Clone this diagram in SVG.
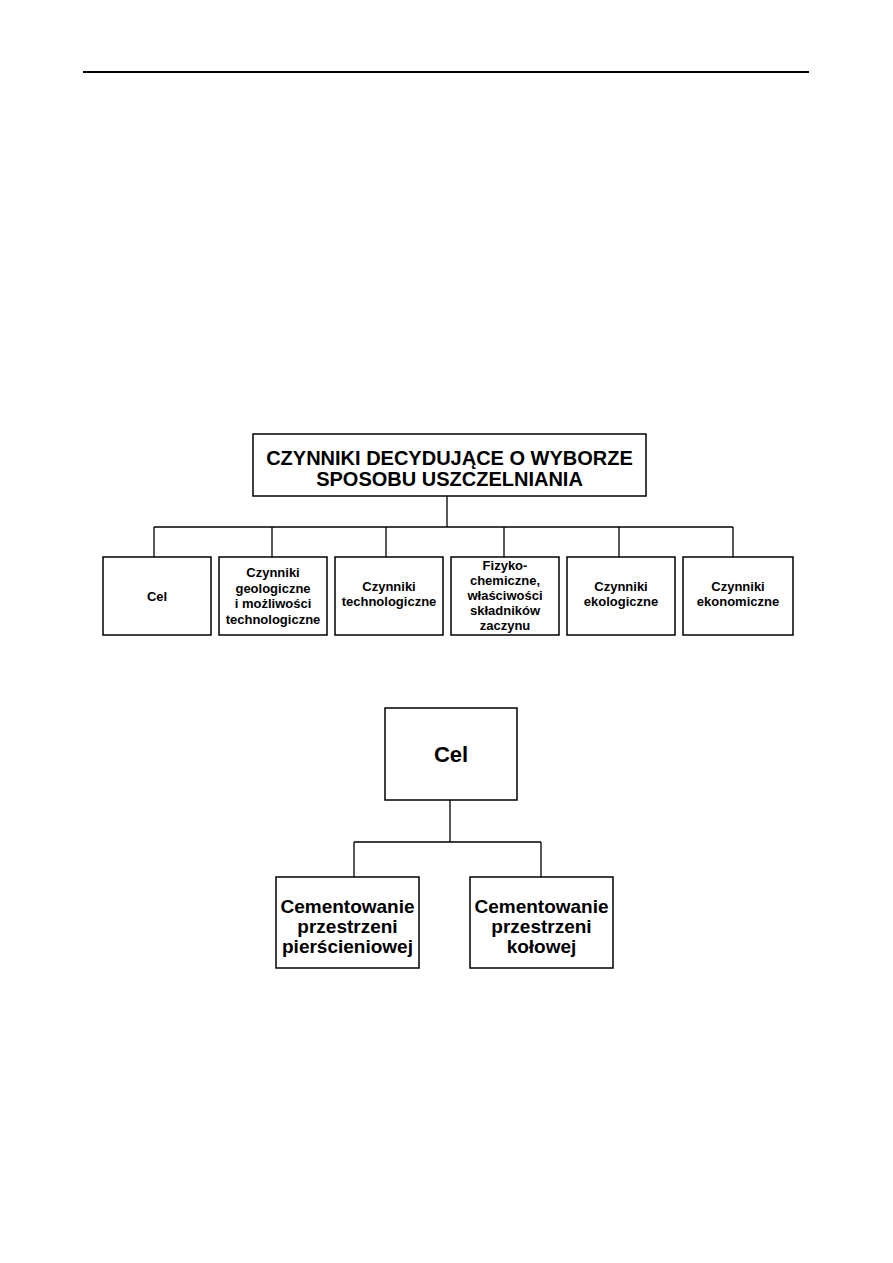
<svg xmlns="http://www.w3.org/2000/svg" width="893" height="1263" viewBox="0 0 893 1263">
<style>
.box{fill:#fff;stroke:#000;stroke-width:1.5}
.ln{fill:none;stroke:#000;stroke-width:1.3}
text{font-family:"Liberation Sans",Arial,sans-serif;font-weight:bold;fill:#000;text-anchor:middle}
.s{font-size:13px}
.m{font-size:19px}
.t{font-size:20px}
.c{font-size:22px}
</style>
<rect width="893" height="1263" fill="#fff"/>
<line x1="83" y1="72" x2="809" y2="72" stroke="#000" stroke-width="2"/>
<g id="connectors">
<path class="ln" d="M447 496V527M154 527H733M154 527V557M272 527V557M386 527V557M504 527V557M619 527V557M733 527V557"/>
<path class="ln" d="M450 800V842M354 842H541M354 842V877M541 842V877"/>
</g>
<g id="root">
<rect class="box" x="253" y="434" width="393" height="62"/>
<text class="t" x="449.5" y="465">CZYNNIKI DECYDUJĄCE O WYBORZE</text>
<text class="t" x="449.5" y="486">SPOSOBU USZCZELNIANIA</text>
</g>
<g id="n1">
<rect class="box" x="103" y="557" width="108" height="78"/>
<text class="s" x="157" y="600.5">Cel</text>
</g>
<g id="n2">
<rect class="box" x="219" y="557" width="108" height="78"/>
<text class="s" x="273" y="577">Czynniki</text>
<text class="s" x="273" y="592.5">geologiczne</text>
<text class="s" x="273" y="608">i możliwości</text>
<text class="s" x="273" y="623.5">technologiczne</text>
</g>
<g id="n3">
<rect class="box" x="335" y="557" width="108" height="78"/>
<text class="s" x="389" y="590.5">Czynniki</text>
<text class="s" x="389" y="606">technologiczne</text>
</g>
<g id="n4">
<rect class="box" x="451" y="557" width="108" height="78"/>
<text class="s" x="505" y="569.5">Fizyko-</text>
<text class="s" x="505" y="584.5">chemiczne,</text>
<text class="s" x="505" y="599.5">właściwości</text>
<text class="s" x="505" y="614.5">składników</text>
<text class="s" x="505" y="629.5">zaczynu</text>
</g>
<g id="n5">
<rect class="box" x="567" y="557" width="108" height="78"/>
<text class="s" x="621" y="590.5">Czynniki</text>
<text class="s" x="621" y="606">ekologiczne</text>
</g>
<g id="n6">
<rect class="box" x="683" y="557" width="110" height="78"/>
<text class="s" x="738" y="590.5">Czynniki</text>
<text class="s" x="738" y="606">ekonomiczne</text>
</g>
<g id="cel">
<rect class="box" x="385" y="708" width="132" height="92"/>
<text class="c" x="451" y="762">Cel</text>
</g>
<g id="c1">
<rect class="box" x="276" y="877" width="143" height="91"/>
<text class="m" x="347.5" y="913">Cementowanie</text>
<text class="m" x="347.5" y="933">przestrzeni</text>
<text class="m" x="347.5" y="953">pierścieniowej</text>
</g>
<g id="c2">
<rect class="box" x="470" y="877" width="143" height="91"/>
<text class="m" x="541.5" y="913">Cementowanie</text>
<text class="m" x="541.5" y="933">przestrzeni</text>
<text class="m" x="541.5" y="953">kołowej</text>
</g>
</svg>
